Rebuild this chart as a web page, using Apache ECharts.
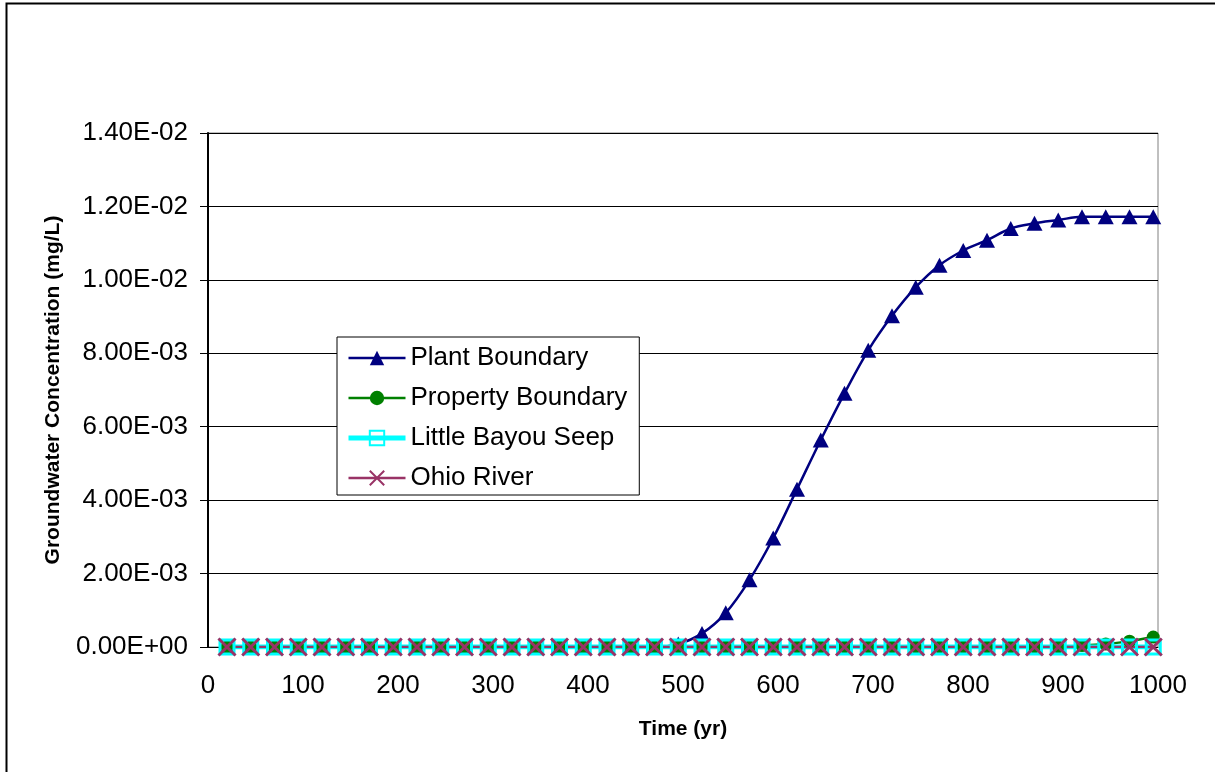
<!DOCTYPE html>
<html>
<head>
<meta charset="utf-8">
<script src="https://cdn.jsdelivr.net/npm/echarts@6/dist/echarts.min.js"></script>
<style>
html,body{margin:0;padding:0;background:#fff;}
#chart{width:1215px;height:772px;}
</style>
</head>
<body>
<div id="chart"></div>
<script>
const years = [20,45,70,95,120,145,170,195,220,245,270,295,320,345,370,395,420,445,470,495,520,545,570,595,620,645,670,695,720,745,770,795,820,845,870,895,920,945,970,995];
const plantBoundary = [0,0,0,0,0,0,0,0,0,0,0,0,0,0,0,0,0,0,0,8e-5,3.7e-4,9.3e-4,1.83e-3,2.97e-3,4.3e-3,5.64e-3,6.91e-3,8.08e-3,9.02e-3,9.8e-3,1.04e-2,1.08e-2,1.108e-2,1.14e-2,1.154e-2,1.163e-2,1.172e-2,1.172e-2,1.172e-2,1.172e-2];
const propertyBoundary = [0,0,0,0,0,0,0,0,0,0,0,0,0,0,0,0,0,0,0,0,0,0,0,0,0,0,0,0,0,0,0,0,0,0,0,0,4e-5,8e-5,1.6e-4,2.7e-4];
const littleBayouSeep = [0,0,0,0,0,0,0,0,0,0,0,0,0,0,0,0,0,0,0,0,0,0,0,0,0,0,0,0,0,0,0,0,0,0,0,0,0,0,0,0];
const ohioRiver = [0,0,0,0,0,0,0,0,0,0,0,0,0,0,0,0,0,0,0,0,0,0,0,0,0,0,0,0,0,0,0,0,0,0,0,0,0,0,0,0];
const seriesNames = ['Plant Boundary','Property Boundary','Little Bayou Seep','Ohio River'];
const yTickLabels = ['0.00E+00','2.00E-03','4.00E-03','6.00E-03','8.00E-03','1.00E-02','1.20E-02','1.40E-02'];
const xTickLabels = ['0','100','200','300','400','500','600','700','800','900','1000'];

const FONT = 'Liberation Sans, Arial, sans-serif';
const pair = arr => years.map((x, i) => [x, arr[i]]);
const chart = echarts.init(document.getElementById('chart'), null, {renderer: 'canvas'});
const crossPath = 'path://M0,0L10,10M10,0L0,10';

chart.setOption({
  animation: false,
  backgroundColor: '#fff',
  graphic: [{
    type: 'rect', left: 4, top: 1, silent: true,
    shape: {width: 1400, height: 1000},
    style: {fill: 'none', stroke: '#000', lineWidth: 2}
  }],
  grid: {left: 208, right: 57, top: 133, bottom: 125, show: true, borderColor: '#808080', borderWidth: 1, backgroundColor: 'transparent'},
  xAxis: {
    type: 'value', min: 0, max: 1000, interval: 100,
    name: 'Time (yr)', nameLocation: 'middle', nameGap: 72,
    nameTextStyle: {fontFamily: FONT, fontSize: 21, fontWeight: 'bold', color: '#000'},
    axisLine: {show: true, lineStyle: {color: '#000', width: 1}},
    axisTick: {show: false},
    splitLine: {show: false},
    axisLabel: {margin: 26, fontFamily: FONT, fontSize: 26, color: '#000',
      formatter: v => xTickLabels[Math.round(v / 100)]}
  },
  yAxis: {
    type: 'value', min: 0, max: 0.014, interval: 0.002,
    name: 'Groundwater Concentration (mg/L)', nameLocation: 'middle', nameGap: 144,
    nameTextStyle: {fontFamily: FONT, fontSize: 21, fontWeight: 'bold', color: '#000'},
    axisLine: {show: true, lineStyle: {color: '#000', width: 2}},
    axisTick: {show: true, length: 8, lineStyle: {color: '#000', width: 1}},
    splitLine: {show: true, lineStyle: {color: '#000', width: 1}},
    axisLabel: {margin: 20, fontFamily: FONT, fontSize: 26, color: '#000',
      formatter: v => yTickLabels[Math.round(v / 0.002)]}
  },
  legend: {
    orient: 'vertical', left: 337, top: 337,
    padding: [8, 12, 4, 9],
    itemWidth: 57, itemHeight: 18, itemGap: 14,
    backgroundColor: '#fff', borderColor: '#000', borderWidth: 1,
    textStyle: {fontFamily: FONT, fontSize: 26, color: '#000', lineHeight: 26},
    data: [
      {name: seriesNames[0], lineStyle: {width: 2.5}},
      {name: seriesNames[1], lineStyle: {width: 2.5}},
      {name: seriesNames[2], lineStyle: {width: 5}},
      {name: seriesNames[3], lineStyle: {width: 2.5}}
    ]
  },
  series: [
    {
      name: seriesNames[0], type: 'line', data: pair(plantBoundary), smooth: 0.35,
      symbol: 'triangle', symbolSize: [16, 15],
      lineStyle: {color: '#000080', width: 2.5},
      itemStyle: {color: '#000080', borderColor: '#000080', borderWidth: 0}
    },
    {
      name: seriesNames[1], type: 'line', data: pair(propertyBoundary), smooth: 0.35,
      symbol: 'circle', symbolSize: 13,
      lineStyle: {color: '#008000', width: 2.5},
      itemStyle: {color: '#008000', borderColor: '#008000', borderWidth: 0}
    },
    {
      name: seriesNames[2], type: 'line', data: pair(littleBayouSeep), smooth: 0.35,
      symbol: 'rect', symbolSize: 14,
      lineStyle: {color: '#00FFFF', width: 5},
      itemStyle: {color: 'transparent', borderColor: '#00FFFF', borderWidth: 3}
    },
    {
      name: seriesNames[3], type: 'line', data: pair(ohioRiver), smooth: 0.35,
      symbol: crossPath, symbolSize: 17,
      lineStyle: {color: '#993366', width: 2.5},
      itemStyle: {color: '#993366', borderColor: '#993366', borderWidth: 3}
    }
  ]
});
</script>
</body>
</html>
